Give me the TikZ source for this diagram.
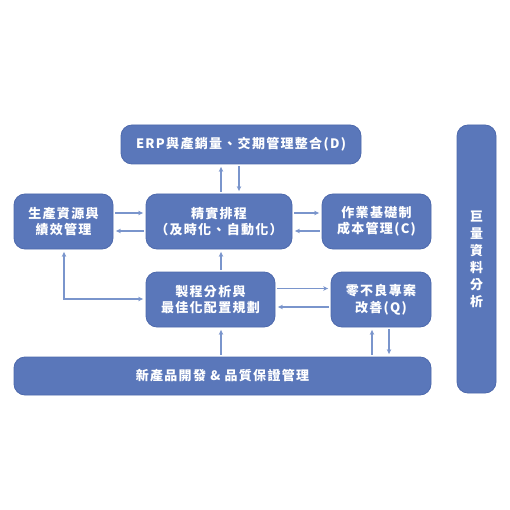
\documentclass[tikz,border=0pt]{standalone}
\usepackage{fontspec}
\newfontfamily\cjk{Noto Sans CJK TC}[LetterSpace=10]
\usetikzlibrary{arrows.meta}
\definecolor{boxblue}{HTML}{5A77BA}
\definecolor{boxedge}{HTML}{4D69AC}
\definecolor{arrblue}{HTML}{7A95CC}
\begin{document}
\begin{tikzpicture}[x=1pt,y=-1pt,
  blk/.style={draw=boxedge,line width=0.8pt,fill=boxblue,rounded corners=11pt,
    text=white,font=\cjk\bfseries\fontsize{13}{16.5}\selectfont,align=center,
    inner sep=0pt,anchor=center},
  arr/.style={draw=arrblue,line width=1.1pt,-{Stealth[length=5pt,width=4.5pt]},
    shorten >=2.5pt,shorten <=2pt},
  darr/.style={draw=arrblue,line width=1.1pt,{Stealth[length=5pt,width=4.5pt]}-{Stealth[length=5pt,width=4.5pt]},
    shorten >=2.5pt,shorten <=2.5pt}]
\useasboundingbox (0,0) rectangle (510,510);
\fill[white] (0,0) rectangle (510,510);

\node[blk,minimum width=240pt,minimum height=39pt] (erp) at (241,144.5) {ERP與產銷量、交期管理整合(D)};
\node[blk,minimum width=99pt,minimum height=55pt] (res) at (63.5,221.5) {生產資源與\\績效管理};
\node[blk,minimum width=146pt,minimum height=55pt] (lean) at (219,221.5) {精實排程\\（及時化、自動化）};
\node[blk,minimum width=109pt,minimum height=55pt] (abc) at (376.5,221.5) {作業基礎制\\成本管理(C)};
\node[blk,minimum width=129pt,minimum height=55pt] (proc) at (210.5,299.5) {製程分析與\\最佳化配置規劃};
\node[blk,minimum width=100pt,minimum height=55pt] (zero) at (381,299.5) {零不良專案\\改善(Q)};
\node[blk,minimum width=417pt,minimum height=38pt] (npd) at (222.5,376) {新產品開發 \& 品質保證管理};
\node[blk,minimum width=39pt,minimum height=268pt,font=\cjk\bfseries\fontsize{13}{17}\selectfont] (big) at (476.5,259) {巨\\量\\資\\料\\分\\析};

\coordinate (xa) at (221,0);
\coordinate (xb) at (239,0);
\coordinate (xc) at (64,0);
\coordinate (xq1) at (372,0);
\coordinate (xq2) at (389,0);
\coordinate (ya) at (0,213);
\coordinate (yb) at (0,231);
\coordinate (yc) at (0,288.5);
\coordinate (yd) at (0,307);
\coordinate (ye) at (0,299);

% ERP <-> lean
\draw[arr] (lean.north -| xa) -- (erp.south -| xa);
\draw[arr] (erp.south -| xb) -- (lean.north -| xb);
% res <-> lean
\draw[arr] (res.east |- ya) -- (lean.west |- ya);
\draw[arr] (lean.west |- yb) -- (res.east |- yb);
% lean <-> abc
\draw[arr] (lean.east |- ya) -- (abc.west |- ya);
\draw[arr] (abc.west |- yb) -- (lean.east |- yb);
% proc -> lean
\draw[arr] (proc.north -| xa) -- (lean.south -| xa);
% res <-> proc (L-shape)
\draw[darr] (res.south -| xc) -- (xc |- ye) -- (proc.west |- ye);
% proc <-> zero
\draw[arr] (proc.east |- yc) -- (zero.west |- yc);
\draw[arr] (zero.west |- yd) -- (proc.east |- yd);
% npd -> proc
\draw[arr] (npd.north -| xa) -- (proc.south -| xa);
% zero <-> npd
\draw[arr] (npd.north -| xq1) -- (zero.south -| xq1);
\draw[arr] (zero.south -| xq2) -- (npd.north -| xq2);
\end{tikzpicture}
\end{document}
